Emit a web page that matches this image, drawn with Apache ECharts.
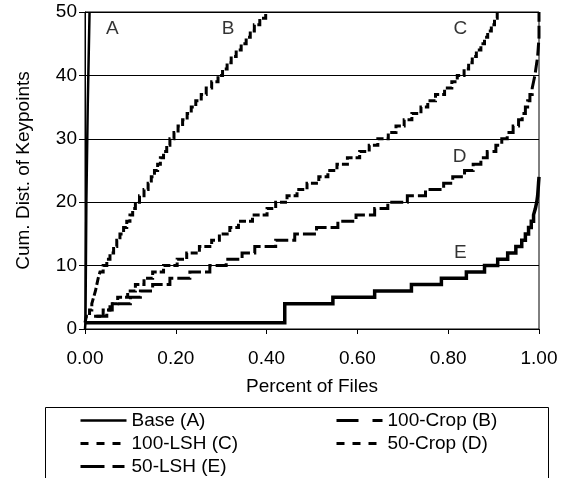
<!DOCTYPE html>
<html><head><meta charset="utf-8">
<script src="https://cdn.jsdelivr.net/npm/echarts@6/dist/echarts.min.js"></script>
<style>html,body{margin:0;padding:0;background:#fff}#c{width:563px;height:478px}</style>
</head><body><div id="c"></div>
<script>
// ---- data ----
const xTickLabels = ['0.00', '0.20', '0.40', '0.60', '0.80', '1.00'];
const yTickLabels = ['0', '10', '20', '30', '40', '50'];
const seriesNames = ['Base (A)', '100-Crop (B)', '100-LSH (C)', '50-Crop (D)', '50-LSH (E)'];

// Base (A)
const aX = [0.000, 0.001, 0.003, 0.006, 0.010];
const aY = [0, 1, 20, 35, 50];

// 100-Crop (B)
const bY = [1,2,3,4,5,6,7,8,9,10,11,12,13,14,15,16,17,18,19,20,21,22,23,24,25,26,27,28,29,30,31,32,33,34,35,36,37,38,39,40,41,42,43,44,45,46,47,48,49,50];
const bX = [0.000,0.003,0.010,0.015,0.019,0.023,0.026,0.029,0.033,0.040,0.048,0.055,0.063,0.070,0.077,0.085,0.092,0.099,0.105,0.111,0.120,0.130,0.139,0.146,0.153,0.160,0.166,0.173,0.180,0.187,0.196,0.205,0.215,0.225,0.234,0.244,0.256,0.267,0.279,0.293,0.303,0.313,0.322,0.333,0.344,0.355,0.364,0.373,0.385,0.398];

// 100-LSH (C)
const cY = [2,3,4,5,6,7,8,9,10,11,12,13,14,15,16,17,18,19,20,21,22,23,24,25,26,27,28,29,30,31,32,33,34,35,36,37,38,39,40,41,42,43,44,45,46,47,48,49,50];
const cX = [0.020,0.040,0.055,0.072,0.094,0.111,0.130,0.149,0.173,0.203,0.224,0.252,0.279,0.296,0.319,0.338,0.369,0.401,0.420,0.445,0.467,0.489,0.515,0.535,0.555,0.578,0.605,0.626,0.645,0.668,0.685,0.703,0.720,0.740,0.755,0.772,0.792,0.808,0.820,0.835,0.845,0.853,0.862,0.872,0.880,0.887,0.895,0.902,0.908];

// 50-Crop (D)
const dY = [2,3,4,5,6,7,8,9,10,11,12,13,14,15,16,17,18,19,20,21,22,23,24,25,26,27,28,29,30,31,32,33,34,35,36,37,38,39,40,41,42,43,44,45,46,47,48,49,50];
const dX = [0.025,0.048,0.060,0.100,0.122,0.149,0.187,0.231,0.275,0.311,0.346,0.374,0.420,0.462,0.510,0.557,0.597,0.638,0.667,0.710,0.750,0.790,0.810,0.836,0.855,0.872,0.886,0.905,0.918,0.930,0.943,0.955,0.963,0.970,0.975,0.980,0.985,0.988,0.991,0.993,0.995,0.997,0.998,0.999,1.000,1.000,1.000,1.000,1.000];

// 50-LSH (E)
const eY = [1,4,5,6,7,8,9,10,11,12,13,14,15,16,17,18,19,20,21,22,23,24];
const eX = [0.000,0.440,0.546,0.638,0.719,0.785,0.840,0.880,0.909,0.931,0.949,0.962,0.970,0.977,0.983,0.988,0.992,0.995,0.997,0.998,0.999,1.000];

// curve letters inside the plot
const tagNames = ['A', 'B', 'C', 'D', 'E'];
const tagX = [0.060, 0.315, 0.827, 0.825, 0.827];
const tagY = [47.3, 47.3, 47.4, 27.1, 12.1];

// ---- chart ----
const FONT = 'Liberation Sans, Arial, sans-serif';
const FS = 19;
const pairs = (xs, ys) => xs.map((x, i) => [x, ys[i]]);
const chart = echarts.init(document.getElementById('c'), null, {renderer: 'canvas'});

const lineSeries = (name, xs, ys, type, width, step) => ({
  name, type: 'line', data: pairs(xs, ys), step: step ? 'end' : false,
  symbol: 'none', showSymbol: false, clip: true,
  lineStyle: {color: '#000', width, type, cap: 'butt', join: 'miter'},
  itemStyle: {color: '#000'},
  label: {show: false}, endLabel: {show: false}
});

const legendBase = {
  orient: 'vertical', top: 411, padding: 0, itemGap: 4,
  itemWidth: 46, itemHeight: 14,
  itemStyle: {opacity: 0},
  textStyle: {fontSize: FS, color: '#000', fontFamily: FONT}
};

chart.setOption({
  animation: false,
  backgroundColor: '#fff',
  textStyle: {fontFamily: FONT, color: '#000'},
  grid: {left: 85, right: 24, top: 12, bottom: 149, show: true, borderColor: '#000', borderWidth: 1},
  xAxis: {
    type: 'value', min: 0, max: 1, interval: 0.2,
    name: 'Percent of Files', nameLocation: 'middle', nameGap: 48,
    nameTextStyle: {fontSize: FS, color: '#000', fontFamily: FONT},
    axisLine: {show: true, lineStyle: {color: '#000', width: 1}},
    axisTick: {show: true, inside: false, length: 5, lineStyle: {color: '#000'}},
    axisLabel: {fontSize: FS, color: '#000', fontFamily: FONT, margin: 20,
      formatter: (v) => xTickLabels[Math.round(v / 0.2)]},
    splitLine: {show: false}
  },
  yAxis: {
    type: 'value', min: 0, max: 50, interval: 10,
    name: 'Cum. Dist. of Keypoints', nameLocation: 'middle', nameGap: 52,
    nameTextStyle: {fontSize: FS, color: '#000', fontFamily: FONT},
    axisLine: {show: true, lineStyle: {color: '#000', width: 1}},
    axisTick: {show: true, inside: false, length: 6, lineStyle: {color: '#000'}},
    axisLabel: {fontSize: FS, color: '#000', fontFamily: FONT, margin: 8,
      formatter: (v) => yTickLabels[Math.round(v / 10)]},
    splitLine: {show: true, lineStyle: {color: '#000', width: 1}}
  },
  legend: [
    Object.assign({}, legendBase, {left: 79, data: [
      {name: seriesNames[0], lineStyle: {type: 'solid', width: 2.5}},
      {name: seriesNames[2], lineStyle: {type: [8, 8], width: 3}},
      {name: seriesNames[4], lineStyle: {type: [24, 8, 12, 8], width: 3}}
    ]}),
    Object.assign({}, legendBase, {left: 335, data: [
      {name: seriesNames[1], lineStyle: {type: [22, 14, 12, 14], width: 3}},
      {name: seriesNames[3], lineStyle: {type: [8, 8], width: 3}}
    ]})
  ],
  graphic: [{
    type: 'rect', left: 43, top: 405, silent: true,
    shape: {width: 503, height: 71},
    style: {fill: 'none', stroke: '#000', lineWidth: 1}
  }],
  series: [
    lineSeries(seriesNames[0], aX, aY, 'solid', 2.5, false),
    lineSeries(seriesNames[1], bX, bY, [8, 3], 3, true),
    lineSeries(seriesNames[2], cX, cY, [7, 3], 3, true),
    lineSeries(seriesNames[3], dX, dY, [13, 4], 3, true),
    lineSeries(seriesNames[4], eX, eY, 'solid', 3.5, true),
    {
      name: 'tags', type: 'scatter', symbolSize: 1,
      itemStyle: {color: 'rgba(0,0,0,0)'},
      data: tagX.map((x, i) => ({value: [x, tagY[i]], name: tagNames[i]})),
      label: {show: true, position: 'inside', formatter: (p) => p.name,
        fontSize: FS, color: '#000', fontFamily: FONT},
      silent: true
    }
  ]
});
</script>
</body></html>
